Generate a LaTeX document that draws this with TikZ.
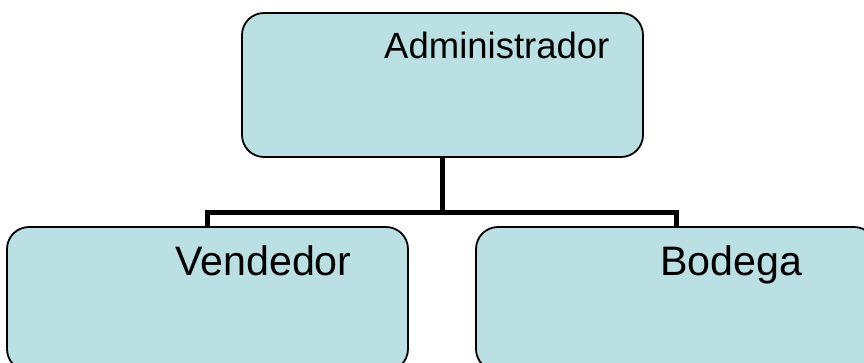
\documentclass[tikz,border=0pt]{standalone}
\usepackage{fontspec}
\setmainfont{Liberation Sans}
\definecolor{boxfill}{RGB}{187,224,227}
\begin{document}
\begin{tikzpicture}[x=1pt,y=-1pt,
  box/.style={draw=black,line width=1.8pt,fill=boxfill,rounded corners=22pt,
    rectangle,inner sep=0pt,outer sep=0pt,minimum height=144pt},
  lbl/.style={anchor=base west,inner sep=0pt,font=\fontsize{36.5}{40}\selectfont},
  biglbl/.style={lbl,font=\fontsize{41.2}{45}\selectfont},
  conn/.style={draw=black,line width=5pt,line join=miter}]
\useasboundingbox (0,0) rectangle (864,362);
\clip (0,0) rectangle (864,362);
\node[box,minimum width=401pt] (admin) at (442.5,85) {};
\node[box,minimum width=401pt] (vend) at (207.5,299) {};
\node[box,minimum width=400pt] (bod) at (676,299) {};
\node[lbl] (tadmin) at (384,58) {Administrador};
\node[biglbl] (tvend) at (175,275) {Vendedor};
\node[biglbl] (tbod) at (660,275) {Bodega};
\coordinate (j) at (442.5,212);
\draw[conn] (admin.south) -- (j);
\draw[conn] (vend.north) |- (j) -| (bod.north);
\end{tikzpicture}
\end{document}
